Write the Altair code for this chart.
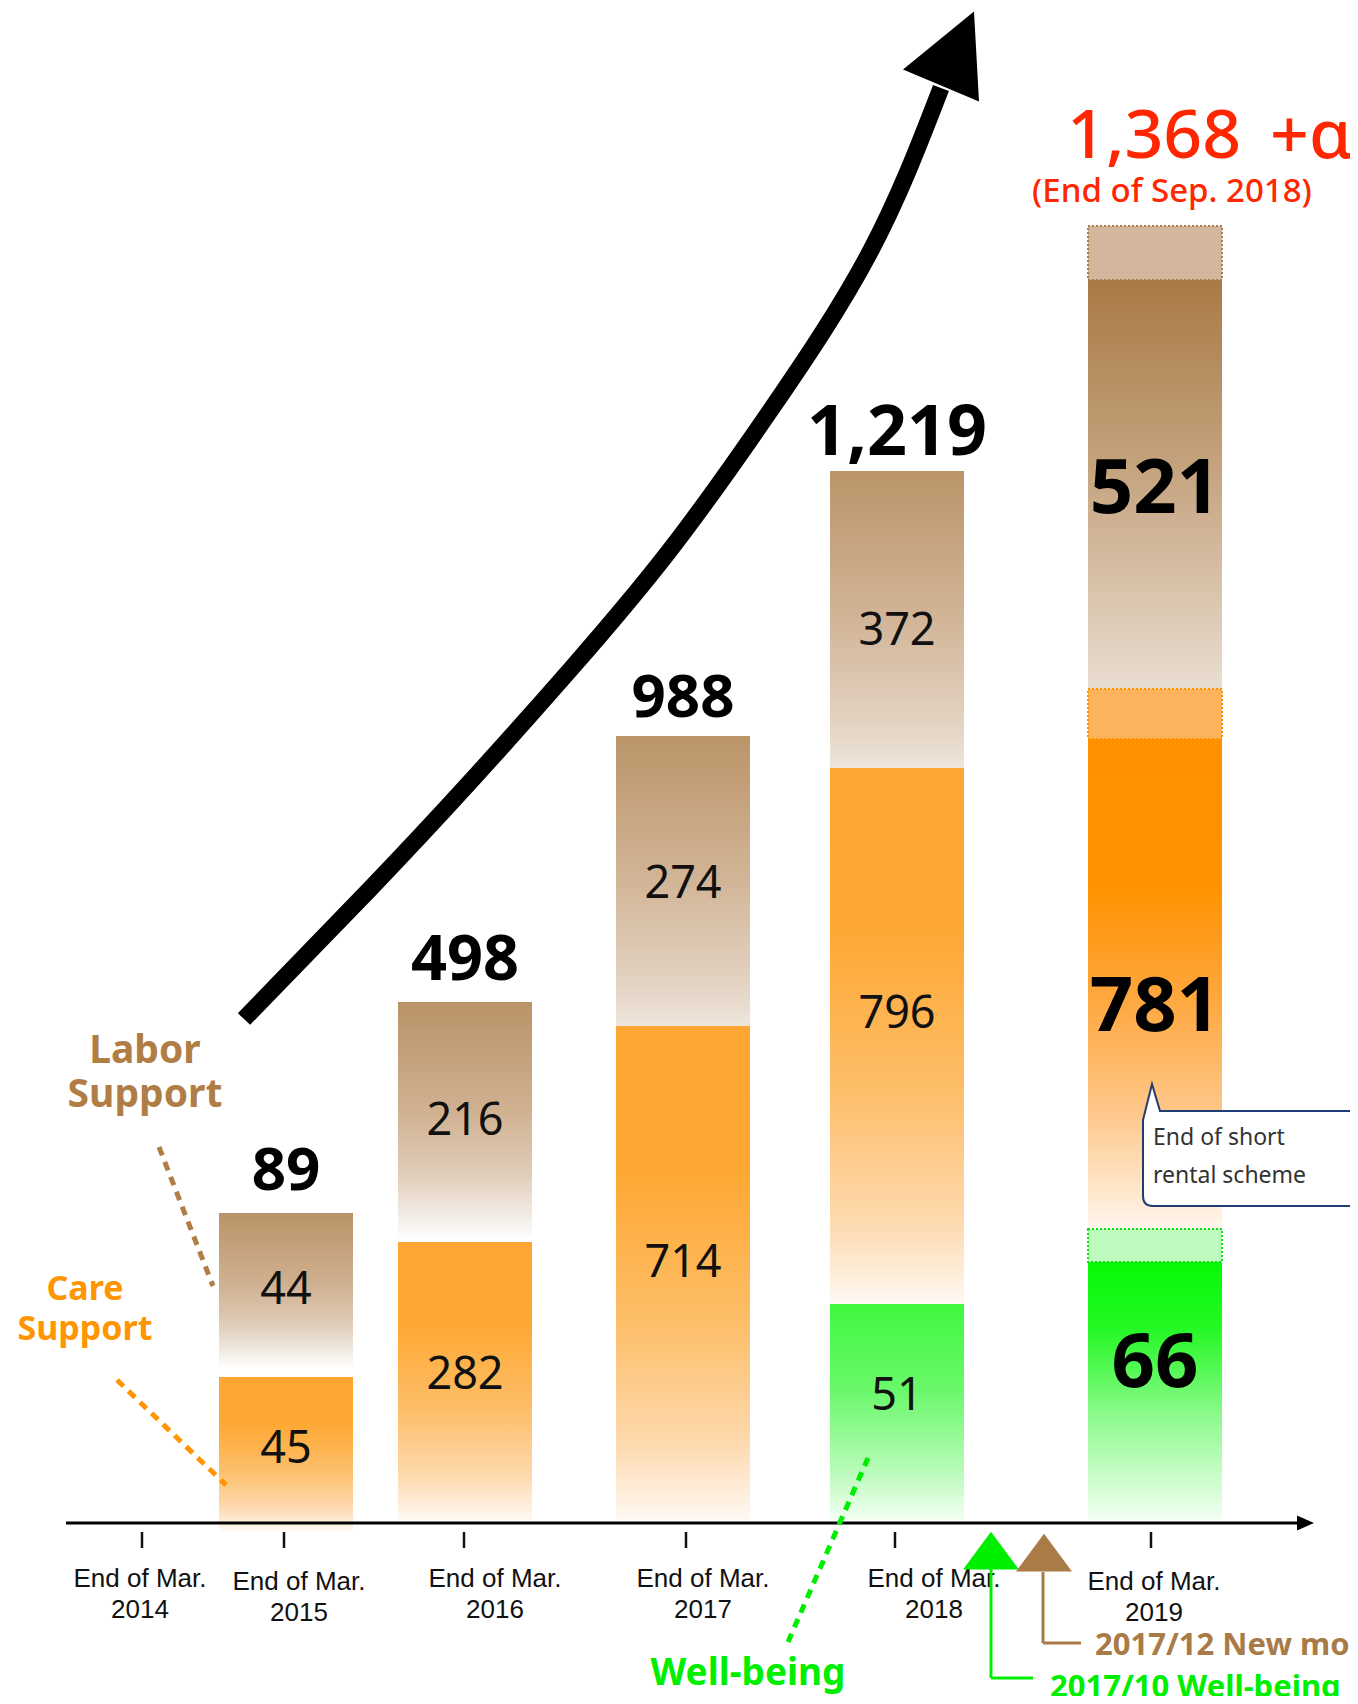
import altair as alt
import pandas as pd

# ---------------- values read from the infographic ----------------
periods = ["End of Mar.\n2015", "End of Mar.\n2016", "End of Mar.\n2017",
           "End of Mar.\n2018", "End of Mar.\n2019"]
care_support = [45, 282, 714, 796, 781]
labor_support = [44, 216, 274, 372, 521]
well_being = [None, None, None, 51, 66]
totals = [89, 498, 988, 1219, 1368]
latest_total_text = "1,368 \u2009+α"
latest_note_text = "(End of Sep. 2018)"
axis_labels = ["End of Mar.\n2014"] + periods
series_labels = ["Labor\nSupport", "Care\nSupport", "Well-being"]
event_labels = ["2017/12 New model", "2017/10 Well-being"]
callout_text = "End of short\nrental scheme"

# ---------------- layout of the (not-to-scale) infographic ----------------
W, H = 1342, 1688
BASE = 1522                      # page y of the time axis


def X(px):
    return px - 8


def Y(py):
    return BASE - py


bar_center_px = [286, 465, 683, 897, 1155]
bar_half_px = 67
# drawn extents of each stacked piece (px above the axis) – the original is illustrative
care_span = [(-9, 145), (2, 280), (2, 496), (218, 754), (293, 783)]
labor_span = [(154, 309), (283, 520), (496, 786), (754, 1051), (833, 1242)]
wb_span = [None, None, None, (2, 218), (2, 260)]
care_label_h = [59, 133, 245, 494, 491]
labor_label_h = [218, 387, 624, 877, 1009]
wb_label_h = [None, None, None, 112, 135]
total_label_h = [332, 542, 805, 1067]
total_font = [60, 63, 60, 70]
pending_span = [("labor", 1242, 1296, "#D3B69B", "#A57B4C"),
                ("care", 783, 833, "#FBB45C", "#FF9100"),
                ("wb", 260, 293, "#BEFBBE", "#11E011")]
tick_px = [142, 284, 464, 686, 895, 1151]
tick_label_px = [140, 299, 495, 703, 934, 1154]
tick_label_base = [1587, 1590, 1587, 1587, 1587, 1590]

xs = alt.Scale(domain=[0, W], nice=False, zero=False)
ys = alt.Scale(domain=[BASE - (8 + H), BASE - 8], nice=False, zero=False)


def qx(f):
    return alt.X(f, type="quantitative", scale=xs, axis=None)


def qy(f):
    return alt.Y(f, type="quantitative", scale=ys, axis=None)


def grad(stops):
    return alt.Gradient(gradient="linear", x1=0, x2=0, y1=0, y2=1,
                        stops=[alt.GradientStop(offset=o, color=c) for o, c in stops])


GRADS = {
    "care": [(0, "#FEA633"), (0.3, "#FEA834"), (0.6, "#FDBE68"), (0.85, "#FDDAB0"), (1, "#FFF9F3")],
    "labor_fade": [(0, "#BA9368"), (0.45, "#CFB08F"), (0.72, "#DFCCB8"), (0.9, "#F3ECE5"), (1, "#FFFFFF")],
    "labor": [(0, "#BB9469"), (0.5, "#D2B597"), (0.85, "#E3D3C2"), (1, "#EEE5DB")],
    "wb": [(0, "#3FF83F"), (0.4, "#6AF86A"), (0.75, "#B4FBB4"), (1, "#F2FEF2")],
    "labor19": [(0, "#A97A46"), (0.45, "#C4A27D"), (0.8, "#DCC8B2"), (1, "#E9DED2")],
    "care19": [(0, "#FF9100"), (0.3, "#FF9200"), (0.5, "#FFA435"), (0.75, "#FEC585"), (1, "#FFF6EC")],
    "wb19": [(0, "#06F906"), (0.25, "#22F822"), (0.6, "#8EFA8E"), (1, "#F3FFF3")],
}

FONT = "Noto Sans"

rows = []
for i, p in enumerate(periods):
    for key, vals, spans, lab in [("care", care_support, care_span, care_label_h),
                                  ("labor", labor_support, labor_span, labor_label_h),
                                  ("wb", well_being, wb_span, wb_label_h)]:
        if vals[i] is None:
            continue
        lo, hi = spans[i]
        if i == 4:
            style = key + "19"
        elif key == "labor" and i < 2:
            style = "labor_fade"
        else:
            style = key
        rows.append(dict(period=p, series=key, value=vals[i],
                         x0=X(bar_center_px[i] - bar_half_px), x1=X(bar_center_px[i] + bar_half_px),
                         xc=X(bar_center_px[i]), y0=lo, y1=hi, ly=lab[i], style=style,
                         fs=76 if i == 4 else 45, txt=str(vals[i])))
seg = pd.DataFrame(rows)

layers = []
for style, stops in GRADS.items():
    layers.append(
        alt.Chart(seg).transform_filter(alt.datum.style == style)
        .mark_rect(fill=grad(stops), strokeWidth=0)
        .encode(x=qx("x0"), x2="x1", y=qy("y0"), y2="y1")
    )

ext = pd.DataFrame([dict(series=s, x0=X(bar_center_px[4] - bar_half_px), x1=X(bar_center_px[4] + bar_half_px),
                         y0=a, y1=b, fill=f, stroke=st) for s, a, b, f, st in pending_span])
layers.append(
    alt.Chart(ext).mark_rect(strokeDash=[2, 2], strokeWidth=2)
    .encode(x=qx("x0"), x2="x1", y=qy("y0"), y2="y1",
            fill=alt.Fill("fill:N", scale=None), stroke=alt.Stroke("stroke:N", scale=None))
)

# segment values
seg_reg = seg[seg["fs"] == 45]
seg_big = seg[seg["fs"] == 76]
layers.append(alt.Chart(seg_reg).mark_text(font=FONT, fontSize=45, color="#111111", baseline="alphabetic")
              .encode(x=qx("xc"), y=qy("ly"), text="txt:N"))
layers.append(alt.Chart(seg_big).mark_text(font=FONT, fontSize=76, fontWeight="bold", color="#000000",
                                           baseline="alphabetic")
              .encode(x=qx("xc"), y=qy("ly"), text="txt:N"))

# totals
tot = pd.DataFrame(dict(x=[X(c) for c in bar_center_px[:4]], y=total_label_h,
                        txt=[f"{v:,}" for v in totals[:4]], fs=total_font))
layers.append(alt.Chart(tot).mark_text(font=FONT, fontWeight="bold", color="#000000", baseline="alphabetic")
              .encode(x=qx("x"), y=qy("y"), text="txt:N", size=alt.Size("fs:Q", scale=None)))

# big growth arrow
arrow_px = [(244, 1019), (370, 889), (470, 782), (570, 670), (670, 550), (770, 411), (870, 252), (941, 88)]
arr = pd.DataFrame(dict(i=range(len(arrow_px)), x=[X(a) for a, b in arrow_px], y=[Y(b) for a, b in arrow_px]))
layers.append(alt.Chart(arr).mark_line(color="black", strokeWidth=17, strokeCap="butt", interpolate="natural")
              .encode(x=qx("x"), y=qy("y"), order="i:Q"))
layers.append(alt.Chart(pd.DataFrame(dict(x=[X(952)], y=[Y(61)])))
              .mark_point(shape="M0.44,-0.99 L0.54,0.81 L-0.98,0.17 Z", size=10000, filled=True,
                          color="black", opacity=1, strokeWidth=0)
              .encode(x=qx("x"), y=qy("y")))

# time axis
layers.append(alt.Chart(pd.DataFrame(dict(x=[X(66)], x2=[X(1300)], y=[Y(1523)])))
              .mark_rule(color="black", strokeWidth=3)
              .encode(x=qx("x"), x2="x2", y=qy("y")))
layers.append(alt.Chart(pd.DataFrame(dict(x=[X(1306)], y=[Y(1523)])))
              .mark_point(shape="M0.8,0 L-0.9,-0.75 L-0.9,0.75 Z", size=400, filled=True,
                          color="black", opacity=1, strokeWidth=0)
              .encode(x=qx("x"), y=qy("y")))
ticks = pd.DataFrame(dict(x=[X(t) for t in tick_px], y=[Y(1532)] * 6, y2=[Y(1548)] * 6))
layers.append(alt.Chart(ticks).mark_rule(color="#111111", strokeWidth=2.5)
              .encode(x=qx("x"), y=qy("y"), y2="y2"))
tl = pd.DataFrame(dict(x=[X(t) for t in tick_label_px], y=[Y(b) for b in tick_label_base], txt=axis_labels))
layers.append(alt.Chart(tl).mark_text(font="Liberation Sans", fontSize=26, color="#111111",
                                      baseline="alphabetic", lineBreak="\n", lineHeight=31)
              .encode(x=qx("x"), y=qy("y"), text="txt:N"))

# leader lines to the series names
leaders = pd.DataFrame(dict(x=[X(159), X(117), X(788)], y=[Y(1147), Y(1380), Y(1642)],
                            x2=[X(213), X(226), X(868)], y2=[Y(1286), Y(1485), Y(1458)],
                            c=["#B07D45", "#FF9500", "#00EE00"]))
layers.append(alt.Chart(leaders).mark_rule(strokeWidth=5, strokeDash=[9, 7])
              .encode(x=qx("x"), y=qy("y"), x2="x2", y2="y2", color=alt.Color("c:N", scale=None)))

# series names
names = pd.DataFrame(dict(x=[X(145), X(85), X(748)], y=[Y(1063), Y(1300), Y(1685)], txt=series_labels,
                          c=["#B07D45", "#FF9500", "#00EE00"], fs=[39, 34, 37], lh=[44, 40, 40]))
for i in range(3):
    d = names.iloc[[i]]
    layers.append(alt.Chart(d).mark_text(font=FONT, fontWeight="bold", fontSize=int(d["fs"].iloc[0]),
                                         color=d["c"].iloc[0], baseline="alphabetic", lineBreak="\n",
                                         lineHeight=int(d["lh"].iloc[0]))
                  .encode(x=qx("x"), y=qy("y"), text="txt:N"))

# latest total (red)
layers.append(alt.Chart(pd.DataFrame(dict(x=[X(1067)], y=[Y(158)], txt=[latest_total_text])))
              .mark_text(font=FONT, fontSize=68, fontWeight=500, color="#FF2600", align="left",
                         baseline="alphabetic")
              .encode(x=qx("x"), y=qy("y"), text="txt:N"))
layers.append(alt.Chart(pd.DataFrame(dict(x=[X(1172)], y=[Y(202)], txt=[latest_note_text])))
              .mark_text(font=FONT, fontSize=33, fontWeight=500, color="#FF2600", baseline="alphabetic")
              .encode(x=qx("x"), y=qy("y"), text="txt:N"))

# callout
layers.append(alt.Chart(pd.DataFrame(dict(x=[X(1152)], y=[Y(1084)])))
              .mark_point(shape="M0,0 L0.08,0.27 L2.4,0.27 L2.4,1.22 L0.01,1.22 Q-0.09,1.22 -0.09,1.12 L-0.09,0.36 Z",
                          size=40000, filled=True, fill="white", stroke="#203C74", strokeWidth=2, opacity=1)
              .encode(x=qx("x"), y=qy("y")))
layers.append(alt.Chart(pd.DataFrame(dict(x=[X(1153)], y=[Y(1145)], txt=[callout_text])))
              .mark_text(font=FONT, fontSize=23, color="#333333", align="left", baseline="alphabetic",
                         lineBreak="\n", lineHeight=38)
              .encode(x=qx("x"), y=qy("y"), text="txt:N"))

# event markers under the axis
tri = pd.DataFrame(dict(x=[X(991), X(1044)], y=[Y(1557), Y(1559)], c=["#00EE00", "#A97B46"]))
layers.append(alt.Chart(tri).mark_point(shape="M0,-0.9 L1,0.45 L-1,0.45 Z", size=3136, filled=True,
                                        opacity=1, strokeWidth=0)
              .encode(x=qx("x"), y=qy("y"), color=alt.Color("c:N", scale=None)))
conn = pd.DataFrame(dict(x=[X(991), X(991), X(1043), X(1043)], y=[Y(1569), Y(1678), Y(1572), Y(1643)],
                         x2=[X(991), X(1033), X(1043), X(1081)], y2=[Y(1678), Y(1678), Y(1643), Y(1643)],
                         c=["#00EE00", "#00EE00", "#A97B46", "#A97B46"]))
layers.append(alt.Chart(conn).mark_rule(strokeWidth=3)
              .encode(x=qx("x"), y=qy("y"), x2="x2", y2="y2", color=alt.Color("c:N", scale=None)))
ev = pd.DataFrame(dict(x=[X(1095), X(1050)], y=[Y(1655), Y(1697)], txt=event_labels,
                       c=["#A97B46", "#00EE00"]))
layers.append(alt.Chart(ev).mark_text(font=FONT, fontSize=31, fontWeight="bold", align="left",
                                      baseline="alphabetic")
              .encode(x=qx("x"), y=qy("y"), text="txt:N", color=alt.Color("c:N", scale=None)))

chart = (alt.layer(*layers)
         .properties(width=W, height=H, padding=0, autosize=alt.AutoSizeParams(type="none"),
                     background="white")
         .configure_view(strokeWidth=0))

chart.save("out.html", embed_options={"renderer": "svg", "actions": False})
